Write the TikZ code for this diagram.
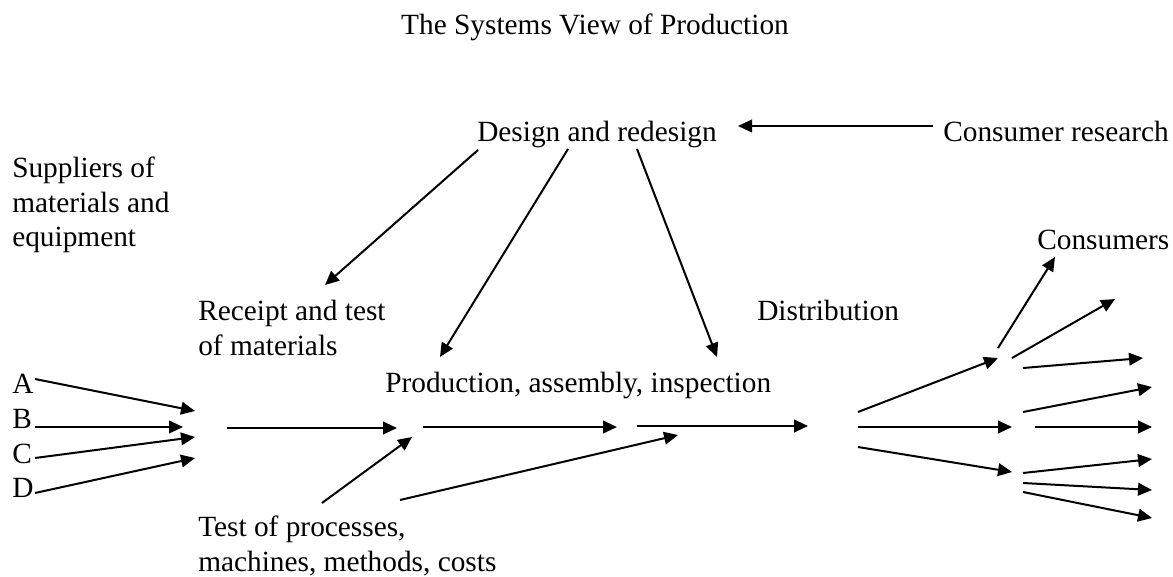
\documentclass[tikz,border=0pt]{standalone}
\usepackage{fontspec}
\setmainfont{Liberation Serif}
\usetikzlibrary{arrows.meta}

\begin{document}
\begin{tikzpicture}[x=0.75pt,y=-0.75pt,
  label/.style={inner sep=0pt,anchor=base west,align=left,
    font=\fontsize{22}{25.9}\selectfont},
  flow/.style={line width=1.5pt,-{Triangle[length=10.5pt,width=9.5pt]}}]

  \useasboundingbox (0,0) rectangle (1173,577);

  % texts (multi-line ones sit on their last line)
  \node[label,anchor=base] (title) at (595,35) {The Systems View of Production};
  \node[label] (design) at (477,142) {Design and redesign};
  \node[label] (research) at (943,142) {Consumer research};
  \node[label] (suppliers) at (12,247) {Suppliers of\\materials and\\equipment};
  \node[label] (receipt) at (198,355) {Receipt and test\\of materials};
  \node[label] (production) at (385,392) {Production, assembly, inspection};
  \node[label] (distribution) at (757,320) {Distribution};
  \node[label] (consumers) at (1037,249) {Consumers};
  \node[label] (tests) at (198,571) {Test of processes,\\machines, methods, costs};
  \foreach \s/\y in {A/393,B/428,C/463,D/497}
    \node[label] (\s) at (12,\y) {\s};

  % consumer research feeds design
  \coordinate (res-out) at (933,126);
  \coordinate (des-in) at (738,126);
  \draw[flow] (res-out) -- (des-in);

  % design into the plant
  \coordinate (des-l) at (478,150);
  \coordinate (des-m) at (568,149);
  \coordinate (des-r) at (637,149);
  \coordinate (rec-in) at (325,285);
  \coordinate (prod-l) at (440,357);
  \coordinate (prod-r) at (717,357);
  \draw[flow] (des-l) -- (rec-in);
  \draw[flow] (des-m) -- (prod-l);
  \draw[flow] (des-r) -- (prod-r);

  % suppliers A to D
  \foreach \s/\ys/\xe/\ye in {A/379/195/411,B/427/183/427,C/458/195/437,D/493/195/458}{
    \coordinate (\s-out) at (35,\ys);
    \coordinate (\s-in) at (\xe,\ye);
    \draw[flow] (\s-out) -- (\s-in);
  }

  % main line
  \coordinate (rec-out) at (227,428);
  \coordinate (prod-in) at (397,428);
  \coordinate (prod-out) at (423,427);
  \coordinate (insp-in) at (617,427);
  \coordinate (insp-out) at (637,426);
  \coordinate (dist-in) at (808,426);
  \draw[flow] (rec-out) -- (prod-in);
  \draw[flow] (prod-out) -- (insp-in);
  \draw[flow] (insp-out) -- (dist-in);

  % tests
  \coordinate (test-l) at (322,503);
  \coordinate (test-r) at (400,500);
  \coordinate (test-l-in) at (412,437);
  \coordinate (test-r-in) at (678,435);
  \draw[flow] (test-l) -- (test-l-in);
  \draw[flow] (test-r) -- (test-r-in);

  % distribution
  \foreach \n/\ys/\xe/\ye in {1/412/998/358,2/427/1012/427,3/447/1012/472}{
    \coordinate (dist-\n) at (858,\ys);
    \coordinate (hub-\n) at (\xe,\ye);
    \draw[flow] (dist-\n) -- (hub-\n);
  }

  % consumers
  \foreach \n/\xs/\ys/\xe/\ye in {1/998/348/1055/257,2/1012/358/1115/299,
      3/1023/368/1143/358,4/1023/412/1152/387,5/1035/427/1152/427,
      6/1023/473/1152/459,7/1023/483/1152/490,8/1023/492/1152/518}{
    \coordinate (cons-out-\n) at (\xs,\ys);
    \coordinate (cons-\n) at (\xe,\ye);
    \draw[flow] (cons-out-\n) -- (cons-\n);
  }
\end{tikzpicture}
\end{document}
